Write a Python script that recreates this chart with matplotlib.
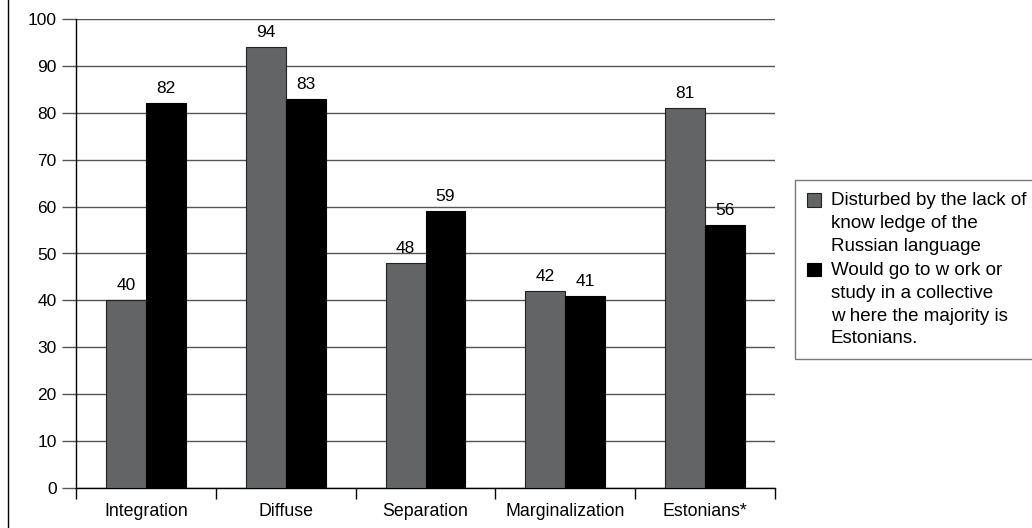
import matplotlib
matplotlib.use("Agg")
import matplotlib.pyplot as plt
import numpy as np
from matplotlib.legend_handler import HandlerPatch
from matplotlib.lines import Line2D
from matplotlib.patches import Rectangle

categories = ["Integration", "Diffuse", "Separation", "Marginalization", "Estonians*"]
disturbed = [40, 94, 48, 42, 81]
would_go = [82, 83, 59, 41, 56]
series_labels = [
    "Disturbed by the lack of\nknow ledge of the\nRussian language",
    "Would go to w ork or\nstudy in a collective\nw here the majority is\nEstonians.",
]

LEGEND_SIZE = 13.5
LEGEND_LINESPACING = 1.44


class TopAlignedHandler(HandlerPatch):
    """Legend square next to the first line of a multi-line label (Excel look)."""

    def __init__(self, nlines):
        super().__init__()
        self.nlines = nlines

    def create_artists(self, legend, orig_handle, xdescent, ydescent,
                       width, height, fontsize, trans):
        step = fontsize * LEGEND_LINESPACING * 0.87
        shift = (self.nlines - 1) / 2 * step
        p = Rectangle((-xdescent, -ydescent + shift), width, height)
        self.update_prop(p, orig_handle, legend)
        p.set_transform(trans)
        return [p]


plt.rcParams["font.family"] = ["Liberation Sans", "DejaVu Sans"]
plt.rcParams["font.size"] = 12.5

fig = plt.figure(figsize=(10.32, 5.28), dpi=100)
ax = fig.add_axes([76 / 1032, 40 / 528, 699 / 1032, 469 / 528])

x = np.arange(len(categories))
width = 0.286
b1 = ax.bar(x - width / 2, disturbed, width, color="#636466", edgecolor="#222222",
            linewidth=0.8, zorder=3)
b2 = ax.bar(x + width / 2, would_go, width, color="black", edgecolor="black",
            linewidth=0.8, zorder=3)
for bars in (b1, b2):
    ax.bar_label(bars, padding=5, fontsize=12.5)

ax.set_xlim(-0.5, len(categories) - 0.5)
ax.set_ylim(0, 100)
ax.set_yticks(range(0, 101, 10))
ax.yaxis.grid(True, color="#555555", linewidth=1, zorder=0)
ax.set_axisbelow(True)

# category names at centres, ticks at the boundaries
ax.set_xticks(x)
ax.set_xticklabels(categories, fontsize=12.8)
ax.tick_params(axis="x", length=0, pad=11)
ax.set_xticks(np.arange(len(categories) + 1) - 0.5, minor=True)
ax.tick_params(axis="x", which="minor", length=8, direction="out", width=1)
ax.tick_params(axis="y", length=10, direction="out", width=1, colors="#555555",
               labelcolor="black", pad=4)

for side in ("top", "right"):
    ax.spines[side].set_visible(False)
for side in ("left", "bottom"):
    ax.spines[side].set_color("black")
    ax.spines[side].set_linewidth(1)

h1, h2 = b1.patches[0], b2.patches[0]
leg = fig.legend([h1, h2], series_labels, loc="upper left",
                 bbox_to_anchor=(795 / 1032, 1 - 180 / 528), borderaxespad=0,
                 frameon=True, fancybox=False, handlelength=0.75, handleheight=0.75,
                 handletextpad=0.5, labelspacing=0.4, borderpad=0.65,
                 fontsize=LEGEND_SIZE,
                 handler_map={h1: TopAlignedHandler(3), h2: TopAlignedHandler(4)})
for t in leg.get_texts():
    t.set_linespacing(LEGEND_LINESPACING)
leg.get_frame().set_edgecolor("#555555")
leg.get_frame().set_linewidth(1)

fig.add_artist(Line2D([8 / 1032, 8 / 1032], [0, 1], color="black", linewidth=1,
                      transform=fig.transFigure))

fig.savefig("out.png", dpi=100)
